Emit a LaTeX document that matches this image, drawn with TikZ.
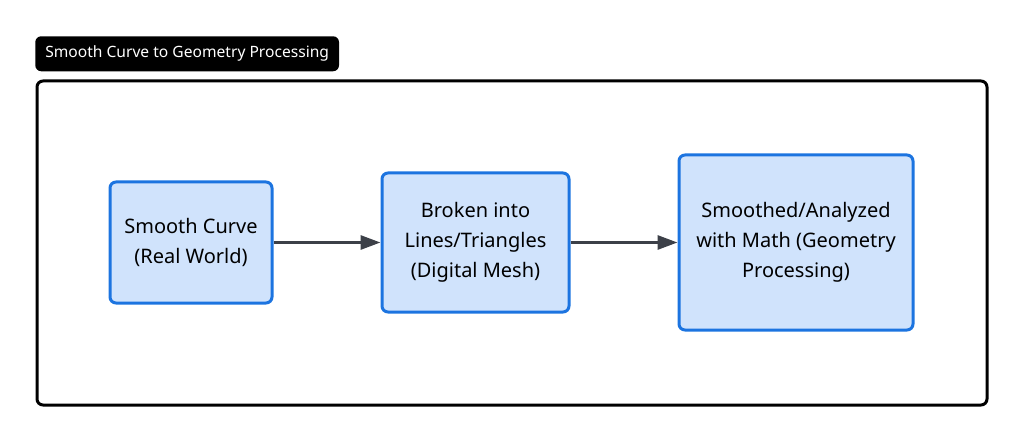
\documentclass[tikz,border=0pt]{standalone}
\usepackage{fontspec}
\setmainfont{Noto Sans}
\usetikzlibrary{positioning,arrows.meta}

\definecolor{stepblue}{HTML}{1C74E0}
\definecolor{stepfill}{HTML}{D0E3FC}
\definecolor{flowgray}{HTML}{3C4048}

\begin{document}
\begin{tikzpicture}[
    stage/.style={draw=stepblue, line width=2.25pt, rounded corners=4.5pt, fill=stepfill,
      align=center, font=\fontsize{15pt}{22.5pt}\selectfont},
    flow/.style={-{Triangle[length=15pt, width=10.5pt]}, line width=2.25pt, draw=flowgray}
  ]
      \useasboundingbox (0pt,0pt) rectangle (768pt,-331.5pt);
      \node[fill=black, text=white, rounded corners=4.5pt, anchor=north west, inner xsep=7.5pt,
        minimum height=26.25pt, font=\fontsize{11.7pt}{13pt}\selectfont] (title) at (26.25pt,-27pt)
        {Smooth Curve to Geometry Processing};
      \draw[line width=2.25pt, rounded corners=4.5pt] (27.75pt,-60.75pt) rectangle (740.25pt,-303.75pt);
      \node[stage, minimum width=121.5pt, minimum height=90.75pt] (A) at (143.25pt,-181.875pt)
        {Smooth Curve\\(Real World)};
      \node[stage, minimum width=140.25pt, minimum height=104.25pt, right=80.25pt of A] (B)
        {Broken into\\Lines/Triangles\\(Digital Mesh)};
      \node[stage, minimum width=175.5pt, minimum height=131.25pt, right=80.25pt of B] (C)
        {Smoothed/Analyzed\\with Math (Geometry\\Processing)};
      \draw[flow] (A) -- (B);
      \draw[flow] (B) -- (C);
    \end{tikzpicture}
\end{document}
